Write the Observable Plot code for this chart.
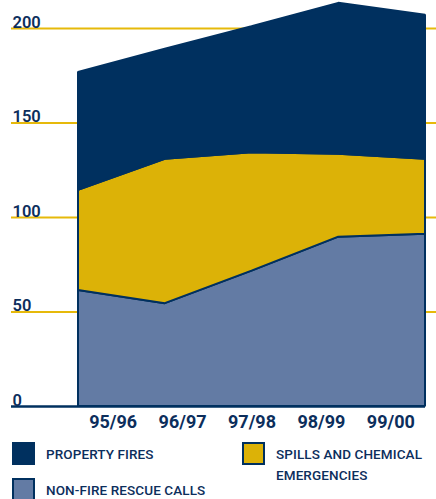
<!DOCTYPE html>
<html>
<head>
<meta charset="utf-8">
<script src="https://cdn.jsdelivr.net/npm/d3@7"></script>
<script src="https://cdn.jsdelivr.net/npm/@observablehq/plot@0.6"></script>
<style>
  html, body { margin: 0; padding: 0; background: #fff; }
  #wrap { position: relative; width: 436px; height: 499px; overflow: hidden; font-family: Roboto, sans-serif; color: #0c2e5c; }
  #chart { position: absolute; left: 0; top: 0; }
  .item { position: absolute; display: flex; align-items: flex-start; }
  .sw { width: 19px; height: 19px; border: 2px solid #00305f; box-sizing: content-box; }
  .lab { font-size: 13.5px; font-weight: 500; line-height: 21px; margin-left: 11px; letter-spacing: 0.1px; margin-top: 2px; }
</style>
</head>
<body>
<div id="wrap">
  <div id="chart"></div>
  <div id="legend"></div>
</div>
<script>
const categories = ["95/96", "96/97", "97/98", "98/99", "99/00"];
const nonFireRescue = [61.4, 54.4, 71.6, 89.6, 91.1];
const spillsChemical = [53.0, 76.4, 62.7, 43.8, 39.7];
const propertyFires = [62.3, 58.2, 66.7, 79.9, 76.2];
const seriesNames = ["NON-FIRE RESCUE CALLS", "SPILLS AND CHEMICAL EMERGENCIES", "PROPERTY FIRES"];
const seriesColors = ["#637ba4", "#dcb207", "#00305f"];
const yTicks = [0, 50, 100, 150, 200];

const seriesValues = [nonFireRescue, spillsChemical, propertyFires];
const data = [];
seriesNames.forEach((s, k) => {
  seriesValues[k].forEach((v, i) => data.push({series: s, i, value: v}));
});

const n = categories.length;
const xTickPos = categories.map((c, i) => (i + 0.5) * (n - 1) / n);

const navy = "#0c2e5c";
const plot = Plot.plot({
  width: 436,
  height: 436,
  marginLeft: 11,
  marginRight: 0,
  marginTop: 28,
  marginBottom: 30,
  x: {domain: [0, n - 1], range: [78, 425], axis: null, label: null},
  y: {domain: [0, 200], axis: null, label: null},
  color: {domain: seriesNames, range: seriesColors},
  style: {fontFamily: "Roboto, sans-serif", overflow: "visible"},
  marks: [
    Plot.ruleY(yTicks.filter(d => d > 0), {stroke: "#e6b90a", strokeWidth: 2}),
    Plot.areaY(data, {x: "i", y: "value", fill: "series", order: seriesNames, stroke: "#00305f", strokeWidth: 2, strokeLinejoin: "miter"}),
    Plot.ruleY([0], {stroke: "#00305f", strokeWidth: 2.5, insetRight: 11}),
    Plot.text(yTicks, {y: d => d, text: d => String(d), frameAnchor: "left", textAnchor: "start", lineAnchor: "bottom", dx: 1, dy: -1, fontSize: 16.5, fontWeight: 600, fill: navy}),
    Plot.axisX({ticks: xTickPos, tickFormat: d => categories[Math.round(d * n / (n - 1) - 0.5)], tickSize: 0, tickPadding: 9, fontSize: 18, fontWeight: 700, fill: navy, label: null})
  ]
});
document.getElementById("chart").appendChild(plot);

// legend
const legend = document.getElementById("legend");
const items = [
  {lines: ["PROPERTY FIRES"], color: seriesColors[2], left: 12, top: 442},
  {lines: ["SPILLS AND CHEMICAL", "EMERGENCIES"], color: seriesColors[1], left: 242, top: 442},
  {lines: ["NON-FIRE RESCUE CALLS"], color: seriesColors[0], left: 12, top: 478}
];
items.forEach(it => {
  const d = document.createElement("div");
  d.className = "item";
  d.style.left = it.left + "px";
  d.style.top = it.top + "px";
  const sw = document.createElement("div");
  sw.className = "sw";
  sw.style.background = it.color;
  const lab = document.createElement("div");
  lab.className = "lab";
  lab.innerHTML = it.lines.join("<br>");
  d.appendChild(sw);
  d.appendChild(lab);
  legend.appendChild(d);
});
</script>
</body>
</html>
